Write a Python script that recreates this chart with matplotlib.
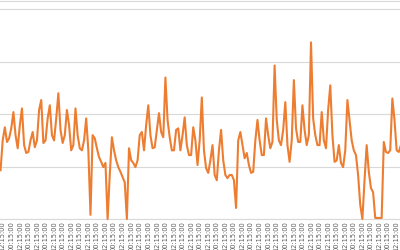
import matplotlib
matplotlib.use("Agg")
import matplotlib.pyplot as plt
import pandas as pd

# 3-hourly readings (arbitrary units), starting 09:15
values = [
    9.3, 15.0, 17.5, 14.7, 15.4, 17.3, 20.4, 16.0, 13.5, 17.9,
    21.1, 14.1, 12.6, 12.8, 15.0, 16.6, 13.7, 15.0, 20.8, 22.7,
    14.5, 15.0, 19.2, 21.7, 16.0, 15.0, 19.2, 24.0, 17.0, 14.5,
    16.0, 20.8, 17.9, 13.1, 14.1, 21.1, 16.0, 13.5, 13.1, 15.0,
    19.2, 13.1, 0.8, 16.0, 15.4, 13.5, 11.8, 10.9, 9.9, 10.7,
    0.0, 8.4, 15.6, 13.1, 11.2, 9.9, 9.0, 8.0, 7.0, 0.0,
    13.5, 11.2, 10.7, 9.9, 11.2, 16.0, 16.6, 13.1, 17.9, 21.7,
    16.0, 13.5, 13.7, 17.0, 20.2, 16.6, 15.6, 27.0, 18.9, 15.6,
    13.1, 13.1, 17.0, 17.3, 13.1, 16.0, 19.4, 14.1, 12.2, 12.2,
    17.5, 15.0, 10.3, 15.0, 23.2, 13.1, 9.7, 8.8, 11.2, 14.1,
    8.4, 7.4, 13.1, 17.0, 11.2, 8.4, 7.8, 8.4, 8.4, 7.4,
    2.1, 15.0, 16.6, 14.1, 11.6, 12.6, 10.3, 8.8, 9.0, 15.0,
    18.9, 15.0, 12.2, 12.2, 19.2, 16.0, 13.5, 14.7, 29.3, 18.9,
    15.0, 14.1, 17.0, 22.3, 14.1, 10.9, 15.0, 26.5, 17.3, 14.7,
    14.7, 21.7, 17.0, 14.1, 16.0, 33.7, 19.2, 16.0, 14.1, 14.1,
    20.4, 15.0, 13.5, 20.8, 25.5, 16.0, 10.9, 11.2, 14.1, 10.7,
    9.9, 13.1, 22.7, 18.9, 15.0, 13.1, 12.2, 8.4, 2.7, 0.0,
    7.4, 14.1, 9.0, 5.9, 5.1, 0.2, 0.2, 0.2, 0.2, 14.7,
    12.8, 12.6, 13.1, 23.0, 18.9, 13.1, 12.8, 14.1,
]

times = pd.date_range("2017-01-01 09:15:00", periods=len(values), freq="3h")
tick_times = [t for t in times if t.hour in (0, 12)]
tick_labels = [t.strftime("%H:%M:%S") for t in tick_times]

y_ticks = [0, 10, 20, 30, 40]

fig = plt.figure(figsize=(4, 2.5), dpi=100)
ax = fig.add_axes([0, 0.124, 1, 0.872])

ax.plot(times, values, color="#ED7D31", lw=1.5, clip_on=False, zorder=3)

first = pd.Timestamp("2017-01-01 12:15:00")
ax.set_xlim(first - pd.Timedelta(hours=3.78), first + pd.Timedelta(hours=556.7))
ax.set_ylim(0, 41.6)

ax.set_yticks(y_ticks)
ax.yaxis.grid(True, color="#D9D9D9", lw=0.8)
ax.set_axisbelow(True)
ax.tick_params(axis="y", left=False, labelleft=False)

ax.set_xticks(tick_times)
ax.set_xticklabels(tick_labels, rotation=90, fontsize=4.8, color="#595959")
ax.tick_params(axis="x", length=0, pad=1.5)

for s in ["left", "right"]:
    ax.spines[s].set_visible(False)
ax.spines["top"].set_color("#D9D9D9")
ax.spines["bottom"].set_color("#D9D9D9")
ax.spines["top"].set_linewidth(0.8)
ax.spines["bottom"].set_linewidth(0.8)

fig.savefig("out.png", dpi=100)
